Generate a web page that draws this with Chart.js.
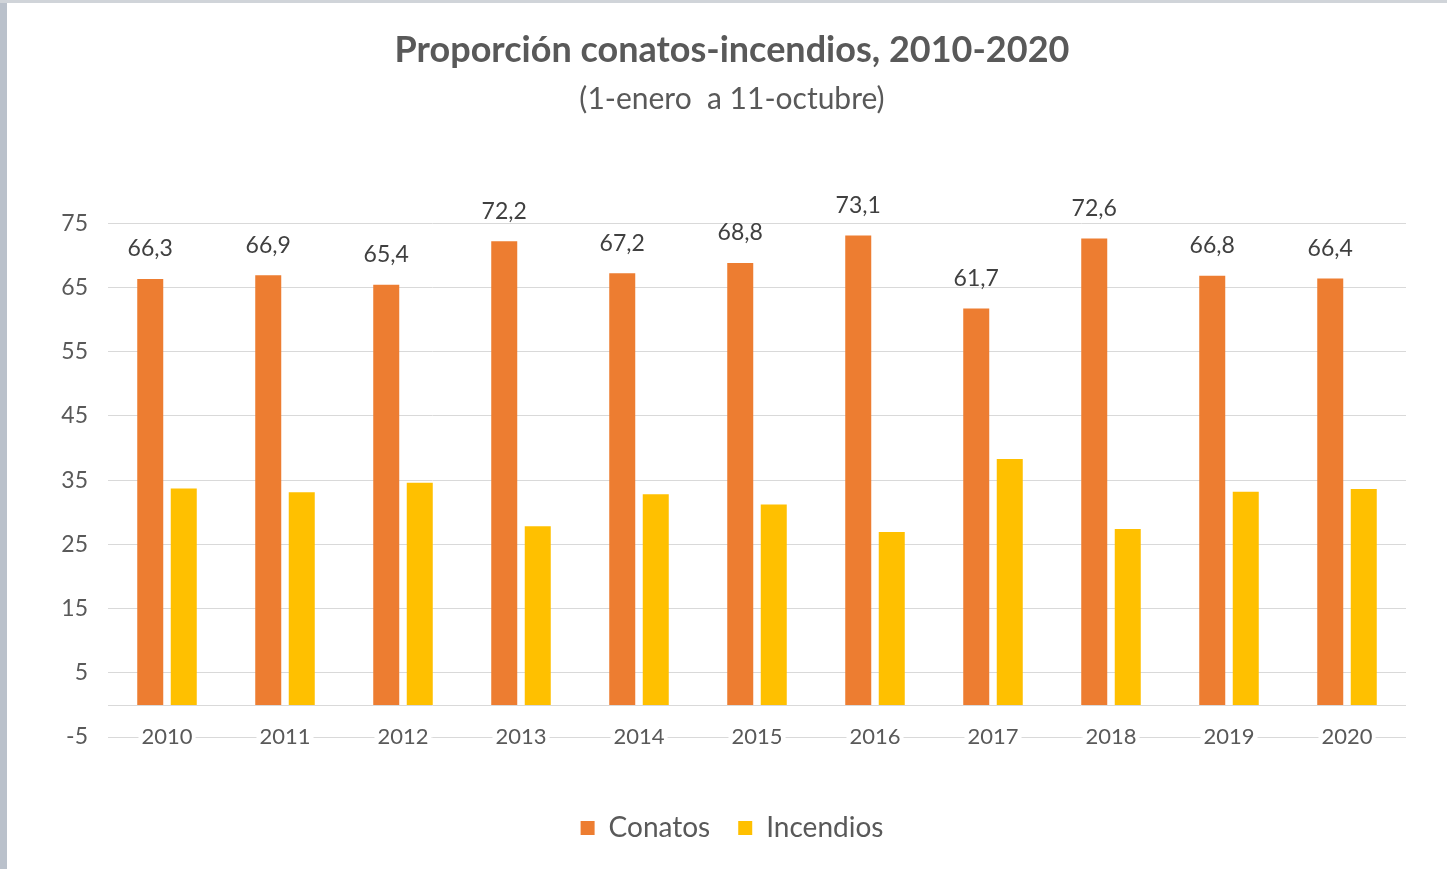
<!DOCTYPE html>
<html><head><meta charset="utf-8">
<script src="https://cdn.jsdelivr.net/npm/chart.js@4.4.1/dist/chart.umd.min.js"></script>
<style>
html,body{margin:0;padding:0;background:#fff;}
#wrap{position:relative;width:1447px;height:869px;overflow:hidden;background:#fff;}
#edgeL{position:absolute;left:0;top:0;width:7px;height:869px;background:#bac1cb;}
#edgeT{position:absolute;left:0;top:0;width:1447px;height:3px;background:#d0d4d9;}
canvas{position:absolute;left:0;top:0;}
</style></head><body>
<div id="wrap"><canvas id="c" width="1447" height="869"></canvas><div id="edgeL"></div><div id="edgeT"></div></div>
<script>
const years = ['2010','2011','2012','2013','2014','2015','2016','2017','2018','2019','2020'];
const conatos = [66.3, 66.9, 65.4, 72.2, 67.2, 68.8, 73.1, 61.7, 72.6, 66.8, 66.4];
const incendios = [33.7, 33.1, 34.6, 27.8, 32.8, 31.2, 26.9, 38.3, 27.4, 33.2, 33.6];
const yMin = -5, yMax = 75, yStep = 10;
const titleText = 'Proporción conatos-incendios, 2010-2020';
const subtitleText = '(1-enero  a 11-octubre)';

const FONT = 'Lato, "Open Sans", sans-serif';
const TXT = '#595959';

const zeroLine = {
  id: 'zeroLine',
  beforeDatasetsDraw(chart) {
    const {ctx, chartArea} = chart;
    const y = Math.round(chart.scales.y.getPixelForValue(0)) + 0.5;
    ctx.save();
    ctx.strokeStyle = '#d9d9d9';
    ctx.lineWidth = 1;
    ctx.beginPath();
    ctx.moveTo(chartArea.left, y);
    ctx.lineTo(chartArea.right, y);
    ctx.stroke();
    ctx.restore();
  }
};

const xLabels = {
  id: 'xLabels',
  afterDraw(chart) {
    const {ctx} = chart;
    const xs = chart.scales.x;
    const y = chart.scales.y.getPixelForValue(yMin);
    ctx.save();
    ctx.font = '22px ' + FONT;
    ctx.textAlign = 'center';
    ctx.textBaseline = 'middle';
    chart.data.labels.forEach((lab, i) => {
      const x = xs.getPixelForTick(i);
      const w = ctx.measureText(lab).width;
      ctx.fillStyle = '#ffffff';
      ctx.fillRect(x - w / 2 - 3, y - 4, w + 6, 8);
      ctx.fillStyle = TXT;
      ctx.fillText(lab, x, y);
    });
    ctx.restore();
  }
};

const valueLabels = {
  id: 'valueLabels',
  afterDatasetsDraw(chart) {
    const {ctx} = chart;
    const meta = chart.getDatasetMeta(0);
    const data = chart.data.datasets[0].data;
    ctx.save();
    ctx.font = '23px ' + FONT;
    ctx.fillStyle = '#404040';
    ctx.textAlign = 'center';
    ctx.textBaseline = 'middle';
    meta.data.forEach((bar, i) => {
      ctx.fillText(data[i].toFixed(1).replace('.', ','), bar.x, bar.y - 30);
    });
    ctx.restore();
  }
};

new Chart(document.getElementById('c'), {
  type: 'bar',
  data: {
    labels: years,
    datasets: [
      {label: 'Conatos', data: conatos, backgroundColor: '#ED7D31', categoryPercentage: 0.568, barPercentage: 0.776},
      {label: 'Incendios', data: incendios, backgroundColor: '#FFC000', categoryPercentage: 0.568, barPercentage: 0.776}
    ]
  },
  options: {
    responsive: false,
    animation: false,
    layout: {padding: {left: 58, right: 41, top: 0, bottom: 17}},
    plugins: {
      title: {display: true, text: titleText, color: TXT, font: {family: FONT, size: 36, weight: 'bold'}, padding: {top: 29, bottom: 9}},
      subtitle: {display: true, text: subtitleText, color: TXT, font: {family: FONT, size: 30}, padding: {top: 0, bottom: 106}},
      legend: {
        position: 'bottom',
        labels: {color: TXT, font: {family: FONT, size: 28}, boxWidth: 14, boxHeight: 14, padding: 28}
      },
      tooltip: {enabled: false}
    },
    scales: {
      x: {
        grid: {display: false, drawTicks: false},
        border: {display: false},
        ticks: {display: false},
        afterFit(s) { s.height = 49; }
      },
      y: {
        min: yMin, max: yMax,
        grid: {color: '#d9d9d9', drawTicks: false},
        border: {display: false},
        ticks: {stepSize: yStep, color: TXT, font: {family: FONT, size: 23}, padding: 20},
        afterFit(s) { s.width = 50; }
      }
    }
  },
  plugins: [zeroLine, valueLabels, xLabels]
});
</script>
</body></html>
